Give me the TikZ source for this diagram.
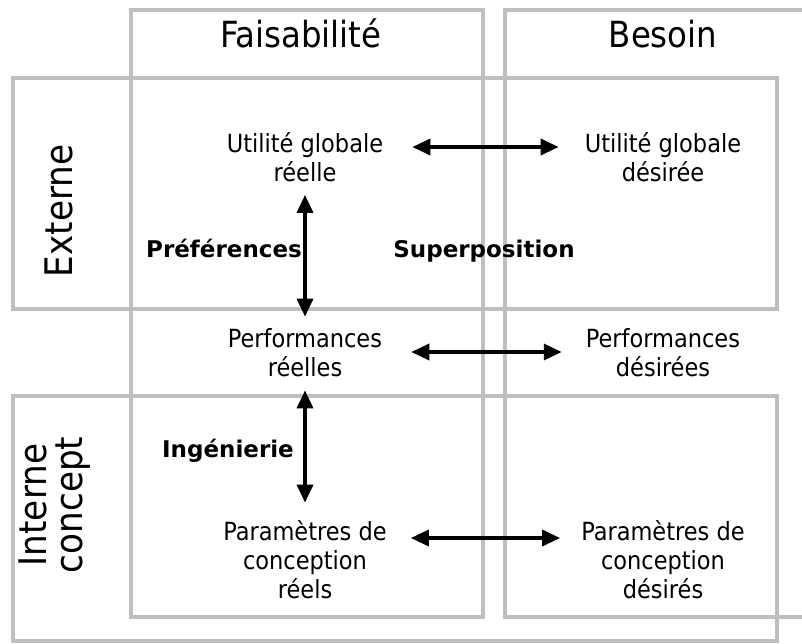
\documentclass[tikz,border=0pt]{standalone}
\usepackage{fontspec}
\setmainfont{DejaVu Sans Condensed}[BoldFont={DejaVu Sans Bold}]
\usetikzlibrary{arrows.meta, positioning}
\tikzset{
  frame/.style={draw=black!25, line width=4.5pt},
  header/.style={font=\fontsize{36}{40}\selectfont, inner sep=0pt},
  side/.style={font=\fontsize{38}{36}\selectfont, rotate=90, align=center, inner sep=0pt},
  cell/.style={font=\fontsize{25}{29}\selectfont, align=center, inner sep=0pt},
  link/.style={font=\fontsize{23}{27}\selectfont\bfseries, inner sep=0pt},
  arrow/.style={line width=3.5pt, {Triangle[length=18pt,width=16pt]}-{Triangle[length=18pt,width=16pt]}}
}

\begin{document}
\begin{tikzpicture}[x=1pt, y=-1pt]
    \useasboundingbox (0,0) rectangle (802,643);
    \clip (0,0) rectangle (802,643);

    % grey frames
    \draw[frame] (131,10) rectangle (483,617);
    \draw[frame] (505,10) rectangle (830,617);
    \draw[frame] (13,78) rectangle (777,309);
    \draw[frame] (13,396) rectangle (777,641);

    % column and row titles
    \node (feas) [header, anchor=base] at (301,47) {Faisabilité};
    \node (need) [header, anchor=base] at (663,47) {Besoin};
    \node (ext) [side, anchor=base] at (72,211) {Externe};
    \node (int) [side] at (55,505) {Interne\\concept};

    % cells
    \node (ugr) [cell] at (305,157) {Utilité globale\\réelle};
    \node (ugd) [cell] at (663,157) {Utilité globale\\désirée};
    \node (pr) [cell] at (305,353) {Performances\\réelles};
    \node (pd) [cell] at (663,353) {Performances\\désirées};
    \node (par) [cell] at (305,560) {Paramètres de\\conception\\réels};
    \node (pad) [cell] at (663,560) {Paramètres de\\conception\\désirés};

    % bold labels
    \node (pref) [link, anchor=base] at (224,257) {Préférences};
    \node (sup) [link, anchor=base] at (484,257) {Superposition};
    \node (ing) [link, anchor=base] at (228,457) {Ingénierie};

    % vertical arrows
    \draw[arrow, shorten <=13pt, shorten >=12pt] (ugr) -- (pr);
    \draw[arrow, shorten <=13pt, shorten >=18pt] (pr) -- (par);

    % horizontal arrows
    \draw[arrow, shorten <=29pt, shorten >=26pt] ([yshift=10pt]ugr.east) -- ([yshift=10pt]ugd.west);
    \draw[arrow, shorten <=29pt, shorten >=24pt] ([yshift=1pt]pr.east) -- ([yshift=1pt]pd.west);
    \draw[arrow, shorten <=24pt, shorten >=21pt] ([yshift=22pt]par.east) -- ([yshift=22pt]pad.west);
\end{tikzpicture}
\end{document}
